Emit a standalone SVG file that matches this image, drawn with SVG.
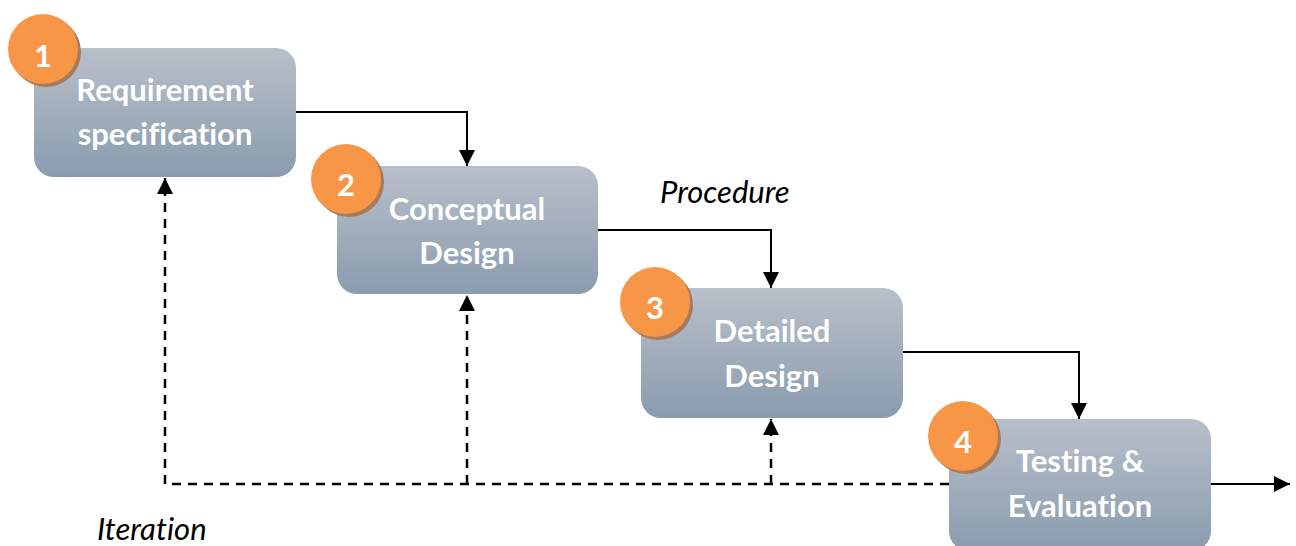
<svg xmlns="http://www.w3.org/2000/svg" width="1296" height="546" viewBox="0 0 1296 546">
<defs>
<linearGradient id="boxg" x1="0" y1="0" x2="0" y2="1">
<stop offset="0" stop-color="#b9bfc9"/>
<stop offset="1" stop-color="#8a9caf"/>
</linearGradient>
<marker id="ah" viewBox="0 0 16 16" refX="16" refY="8" markerWidth="16" markerHeight="16" markerUnits="userSpaceOnUse" orient="auto">
<path d="M0,0 L16,8 L0,16 Z" fill="#000"/>
</marker>
<style>
.box{fill:url(#boxg);}
.lbl{font-family:Lato,"Open Sans","Liberation Sans",sans-serif;font-weight:700;font-size:31px;fill:#ffffff;text-anchor:middle;font-variant-ligatures:none;}
.num{font-family:Lato,"Open Sans","Liberation Sans",sans-serif;font-weight:700;font-size:31px;fill:#ffffff;text-anchor:middle;}
.circ{fill:#f79646;}
.shad{fill:#a87a5c;}
.ital{font-family:Lato,"Open Sans","Liberation Sans",sans-serif;font-style:italic;font-size:31px;fill:#000;font-variant-ligatures:none;}
.solid{fill:none;stroke:#000;stroke-width:2;marker-end:url(#ah);}
.dash{fill:none;stroke:#000;stroke-width:2.5;stroke-dasharray:9,7;}
.dashA{fill:none;stroke:#000;stroke-width:2.5;stroke-dasharray:9,7;marker-end:url(#ah);}
</style>
</defs>

<g id="connectors">
<path class="solid" d="M296,112 H467 V166"/>
<path class="solid" d="M598,230 H771 V288"/>
<path class="solid" d="M903,352 H1079 V419"/>
<path class="solid" d="M1211,484 H1290"/>
<path class="dash" d="M949,484 H165"/>
<path class="dashA" d="M165,484 V178"/>
<path class="dashA" d="M467,484 V295"/>
<path class="dashA" d="M771,484 V419"/>
</g>

<g id="node1">
<rect class="box" x="34" y="48" width="262" height="129" rx="20"/>
<text class="lbl" x="165" y="101">Requirement</text>
<text class="lbl" x="165" y="145">specification</text>
<circle class="shad" cx="46" cy="52" r="35"/>
<circle class="circ" cx="43" cy="49" r="35"/>
<text class="num" x="43" y="67">1</text>
</g>

<g id="node2">
<rect class="box" x="337" y="166" width="261" height="128" rx="20"/>
<text class="lbl" x="467" y="220">Conceptual</text>
<text class="lbl" x="467" y="264">Design</text>
<circle class="shad" cx="349" cy="182" r="35"/>
<circle class="circ" cx="346" cy="179" r="35"/>
<text class="num" x="346" y="196">2</text>
</g>

<g id="node3">
<rect class="box" x="641" y="288" width="262" height="130" rx="20"/>
<text class="lbl" x="772" y="342">Detailed</text>
<text class="lbl" x="772" y="387">Design</text>
<circle class="shad" cx="658" cy="305" r="35"/>
<circle class="circ" cx="655" cy="302" r="35"/>
<text class="num" x="655" y="319">3</text>
</g>

<g id="node4">
<rect class="box" x="949" y="419" width="262" height="132" rx="20"/>
<text class="lbl" x="1080" y="472">Testing &amp;</text>
<text class="lbl" x="1080" y="517">Evaluation</text>
<circle class="shad" cx="966" cy="439" r="35"/>
<circle class="circ" cx="963" cy="436" r="35"/>
<text class="num" x="963" y="453">4</text>
</g>

<g id="labels">
<text class="ital" x="660" y="203">Procedure</text>
<text class="ital" x="97" y="540">Iteration</text>
</g>
</svg>
